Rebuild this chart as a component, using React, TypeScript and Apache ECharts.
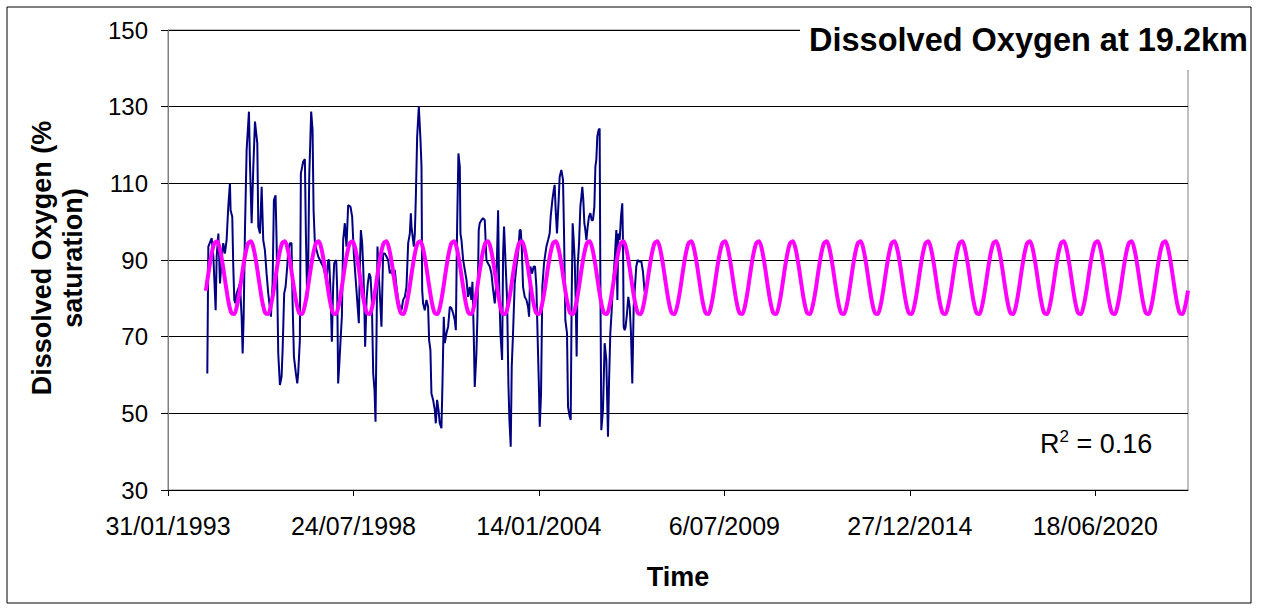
import React, { useEffect, useRef } from "react";
import * as echarts from "echarts";

// Observed dissolved oxygen (% saturation); dates are Excel day serials
const obsDays = [
  34424, 34435, 34471, 34489, 34514, 34525, 34543, 34561, 34578, 34596, 34614, 34632, 34650, 34668, 34675, 34693,
  34704, 34715, 34726, 34740, 34765, 34776, 34794, 34805, 34816, 34830, 34848, 34873, 34884, 34902, 34920, 34938,
  34963, 34974, 34992, 35010, 35027, 35045, 35063, 35081,
  35110, 35128, 35142, 35160, 35171, 35178, 35189, 35207, 35225, 35236, 35243, 35253, 35268, 35286, 35297, 35315,
  35332, 35343, 35358, 35379, 35394, 35404, 35422, 35433, 35447, 35458, 35476, 35487, 35501, 35512, 35523, 35534,
  35544, 35559, 35570, 35584, 35602, 35620, 35638, 35656, 35674, 35692, 35710, 35728, 35738, 35753, 35767, 35781,
  35792, 35803, 35814, 35825, 35835, 35846, 35861, 35875,
  35889, 35907, 35925, 35943, 35968, 35986, 36004, 36022, 36040, 36058, 36069, 36080, 36094, 36105, 36116, 36126,
  36141, 36155, 36170, 36184, 36198, 36213, 36227, 36238, 36249, 36259, 36274, 36284, 36302, 36320, 36338, 36356,
  36374, 36392, 36410, 36428, 36446, 36464, 36482, 36500, 36518, 36536, 36554, 36572, 36590, 36608, 36619,
  36626, 36651, 36662, 36672, 36687, 36705, 36723, 36734, 36741, 36751, 36769, 36787, 36805, 36816, 36830, 36841,
  36859, 36877, 36888, 36902, 36917, 36931, 36949, 36960, 36974, 36985, 37003, 37021, 37039, 37057, 37075, 37093,
  37104, 37118, 37132, 37147, 37154, 37165, 37183, 37201, 37219, 37236, 37254, 37272, 37283, 37297, 37308, 37326,
  37337, 37351, 37362,
  37380, 37398, 37416, 37434, 37452, 37470, 37488, 37506, 37524, 37542, 37560, 37570, 37585, 37603, 37614, 37624,
  37642, 37657, 37671, 37682, 37696, 37707, 37721, 37739, 37757, 37775, 37793, 37804, 37815, 37829, 37847, 37865,
  37883, 37894, 37908, 37926, 37944, 37958, 37973, 37987, 38001, 38009, 38023, 38037, 38055, 38070, 38081, 38099,
  38116, 38127, 38145, 38160,
  38170, 38181, 38195, 38213, 38224, 38242, 38260, 38271, 38285, 38303, 38314, 38332, 38343, 38353, 38364, 38375,
  38386, 38397, 38407, 38418, 38433, 38447, 38458, 38468, 38479, 38490, 38501, 38512, 38526, 38540, 38555, 38569,
  38583, 38598, 38609, 38619, 38630, 38644, 38655, 38662, 38673, 38691, 38709, 38727, 38745, 38756, 38770, 38785,
  38799, 38817, 38835, 38846, 38856, 38871, 38885, 38899, 38907, 38914, 38925, 38935, 38950, 38964, 38979, 38993,
  39007, 39022, 39036, 39050, 39065, 39079, 39104, 39122, 39140,
];
const obsValues = [
  60.4, 93.5, 95.7, 90.9, 76.9, 90.9, 96.9, 83.9, 90.0, 94.4, 91.7, 95.2, 103.9, 110.0, 103.0, 101.3,
  88.3, 79.6, 78.7, 81.3, 83.0, 83.9, 75.2, 65.6, 75.2, 97.8, 118.7, 128.7, 115.2, 99.6, 114.3, 126.1,
  120.4, 98.7, 96.9, 109.1, 95.2, 92.6, 86.5, 81.3,
  75.2, 83.9, 105.6, 106.9, 95.2, 83.0, 65.6, 57.4, 59.6, 66.5, 72.6, 81.3, 83.0, 88.3, 92.6, 94.4,
  94.4, 79.6, 64.8, 60.4, 57.8, 60.4, 69.1, 112.6, 114.3, 115.7, 116.3, 96.9, 79.6, 88.3, 111.7, 120.4,
  128.7, 123.9, 103.0, 94.4, 92.6, 90.9, 90.0, 89.1, 88.3, 86.5, 84.8, 90.0, 90.0, 81.3, 68.7, 83.0,
  89.1, 89.6, 90.0, 82.2, 57.8, 62.2, 69.1, 75.2,
  95.2, 99.6, 93.5, 104.3, 103.9, 101.3, 91.7, 85.6, 79.6, 73.5, 88.3, 97.8, 94.4, 88.3, 79.6, 67.4,
  79.6, 83.9, 86.5, 85.6, 79.6, 60.4, 56.1, 47.8, 70.9, 93.5, 85.6, 81.3, 72.6, 91.7, 91.7, 90.9,
  90.0, 86.5, 87.4, 85.6, 87.4, 83.0, 79.6, 77.8, 76.9, 79.6, 80.4, 83.0, 94.4, 96.9, 102.2,
  98.7, 93.5, 96.9, 105.6, 122.2, 130.0, 121.3, 114.3, 82.2, 78.7, 76.9, 79.6, 77.8, 69.1, 66.5, 55.2,
  53.5, 50.9, 47.4, 53.5, 50.9, 47.4, 46.1, 57.8, 75.2, 68.3, 70.9, 72.6, 77.8, 77.4, 76.1, 74.3,
  71.7, 98.7, 117.8, 114.3, 96.9, 95.2, 90.0, 87.4, 84.8, 80.4, 83.0, 79.6, 84.3, 70.9, 56.9, 65.6,
  75.2, 97.8, 99.6,
  100.4, 100.9, 100.4, 90.0, 89.1, 88.3, 86.5, 82.2, 78.7, 84.8, 103.0, 84.8, 70.9, 63.9, 91.7, 98.7,
  88.3, 79.6, 57.8, 48.3, 41.3, 62.2, 70.9, 83.9, 88.3, 91.7, 97.8, 97.8, 93.5, 83.0, 80.4, 79.6,
  77.8, 75.2, 88.3, 86.5, 88.3, 88.3, 83.0, 69.1, 56.1, 46.5, 55.2, 83.0, 89.1, 91.7, 93.5, 95.2,
  96.9, 101.3, 105.6, 108.3,
  109.6, 103.0, 96.9, 105.6, 111.7, 113.5, 110.9, 96.9, 74.3, 70.9, 51.7, 49.1, 48.3, 79.6, 99.6, 95.2,
  90.0, 79.6, 64.8, 88.3, 94.4, 103.9, 106.5, 109.1, 105.6, 99.6, 97.8, 95.2, 98.7, 101.3, 102.2, 100.4,
  100.4, 103.9, 114.3, 116.1, 122.2, 123.9, 124.3, 88.3, 45.6, 50.9, 68.3, 63.9, 43.9, 57.8, 70.9, 76.9,
  83.9, 90.0, 97.8, 79.6, 96.9, 95.2, 101.3, 104.8, 94.4, 72.6, 71.7, 72.6, 76.1, 80.4, 77.8, 70.9,
  57.8, 77.8, 83.0, 88.3, 90.0, 89.6, 89.7, 87.0, 81.7,
];

// Seasonal model: value read for the middle of each month (Jan..Dec)
const fitMonthValues = [75.9, 78.2, 82.0, 87.1, 91.5, 94.4, 94.9, 92.7, 88.5, 83.6, 79.0, 76.2];
const fitFirstYear = 1994;
const fitLastYear = 2023;
const fitStartDay = 34400;
const fitEndDay = 45000;

// Axes
const xMin = 34000;
const xMax = 45000;
const xStep = 2000;
const yMin = 30;
const yMax = 150;
const yStep = 20;

const titleText = "Dissolved Oxygen at 19.2km";
const xTitle = "Time";
const yTitle = "Dissolved Oxygen (%\nsaturation)";
const r2Text = "0.16";

const EXCEL_EPOCH = Date.UTC(1899, 11, 30);
const DAY = 86400000;
const toSerial = (y: number, m: number, d: number) => Math.round((Date.UTC(y, m, d) - EXCEL_EPOCH) / DAY);
const serialLabel = (s: number) => {
  const d = new Date(EXCEL_EPOCH + s * DAY);
  return `${d.getUTCDate()}/${String(d.getUTCMonth() + 1).padStart(2, "0")}/${d.getUTCFullYear()}`;
};

const FONT = "'Liberation Sans', Arial, sans-serif";

export default function App() {
  const ref = useRef<HTMLDivElement>(null);
  useEffect(() => {
    document.body.style.margin = "0";
    if (!ref.current) return;
    const chart = echarts.init(ref.current, undefined, { renderer: "svg" });

    const obs = obsDays.map((d, i) => [d, obsValues[i]]);
    const fit: number[][] = [];
    for (let y = fitFirstYear; y <= fitLastYear; y++) {
      for (let m = 0; m < 12; m++) {
        const s = toSerial(y, m, 15);
        if (s >= fitStartDay && s <= fitEndDay) fit.push([s, fitMonthValues[m]]);
      }
    }

    chart.setOption({
      animation: false,
      backgroundColor: "#ffffff",
      textStyle: { fontFamily: FONT },
      grid: { left: 168, right: 73, top: 30, bottom: 120, show: true, borderColor: "#808080", borderWidth: 1, backgroundColor: "transparent" },
      xAxis: {
        type: "value",
        min: xMin,
        max: xMax,
        interval: xStep,
        axisLine: { show: true, onZero: false, lineStyle: { color: "#000", width: 1 } },
        axisTick: { show: true, length: 6, lineStyle: { color: "#000" } },
        axisLabel: { formatter: serialLabel, fontSize: 25, color: "#000", fontFamily: FONT, margin: 23, showMaxLabel: false },
        splitLine: { show: false },
        name: xTitle,
        nameLocation: "middle",
        nameGap: 73,
        nameTextStyle: { fontSize: 27, fontWeight: "bold", color: "#000", fontFamily: FONT },
      },
      yAxis: {
        type: "value",
        min: yMin,
        max: yMax,
        interval: yStep,
        axisLine: { show: true, lineStyle: { color: "#808080", width: 1 } },
        axisTick: { show: true, length: 7, lineStyle: { color: "#000" } },
        axisLabel: { fontSize: 24, color: "#000", fontFamily: FONT, margin: 20 },
        splitLine: { show: true, lineStyle: { color: "#000", width: 1 } },
      },
      series: [
        {
          type: "line",
          data: obs,
          showSymbol: false,
          symbol: "none",
          lineStyle: { color: "#000080", width: 2 },
          z: 2,
        },
        {
          type: "line",
          data: fit,
          showSymbol: false,
          symbol: "none",
          smooth: 0.3,
          lineStyle: { color: "#FF00FF", width: 4 },
          z: 3,
        },
      ],
      graphic: [
        { type: "rect", z: 100, shape: { x: 7, y: 7, width: 1244, height: 596 }, style: { fill: "none", stroke: "#000", lineWidth: 1 } },
        { type: "rect", z: 101, shape: { x: 800, y: 9, width: 450, height: 61 }, style: { fill: "#fff" } },
        {
          type: "text",
          z: 102,
          x: 1248,
          y: 40,
          style: { text: titleText, textAlign: "right", textVerticalAlign: "middle", font: `bold 32.5px ${FONT}`, fill: "#000" },
        },
        {
          type: "text",
          z: 102,
          x: 57,
          y: 258,
          rotation: Math.PI / 2,
          style: { text: yTitle, textAlign: "center", textVerticalAlign: "middle", font: `bold 27px ${FONT}`, fill: "#000", lineHeight: 31 },
        },
        {
          type: "text",
          z: 102,
          x: 1040,
          y: 444,
          style: {
            text: `{a|R}{b|2}{a| = ${r2Text}}`,
            textVerticalAlign: "middle",
            rich: {
              a: { fontSize: 27, fontFamily: FONT, fill: "#000", color: "#000", lineHeight: 32 },
              b: { fontSize: 17, fontFamily: FONT, fill: "#000", color: "#000", verticalAlign: "top", lineHeight: 32, padding: [0, 0, 12, 0] },
            },
          },
        },
      ],
    });
    return () => chart.dispose();
  }, []);
  return <div ref={ref} style={{ width: 1261, height: 610 }} />;
}
